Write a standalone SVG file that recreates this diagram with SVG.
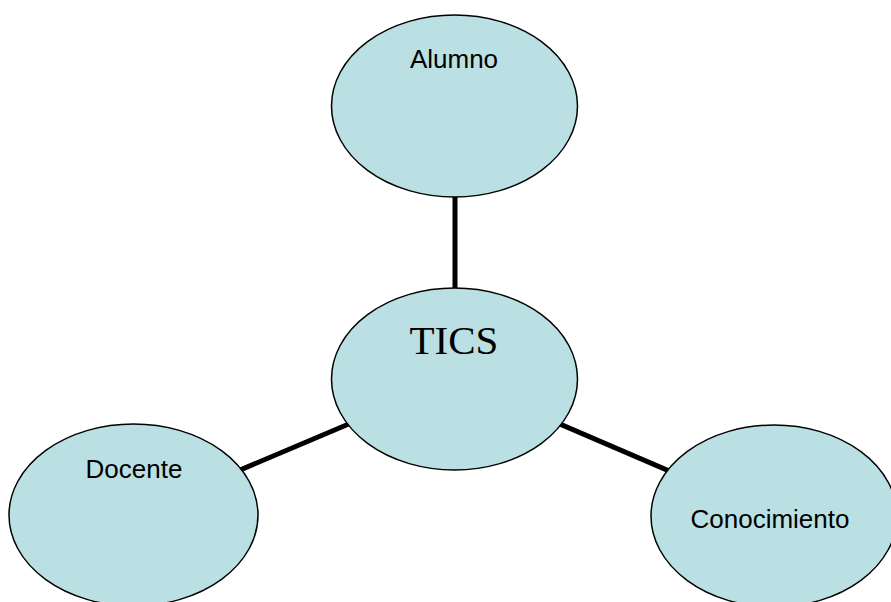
<svg xmlns="http://www.w3.org/2000/svg" width="891" height="602" viewBox="0 0 891 602">
  <style>
    .node ellipse { fill: #BBE0E3; stroke: #000; stroke-width: 1.5; }
    .lbl { font-family: "Liberation Sans", Arial, sans-serif; font-size: 26px; fill: #000; text-anchor: middle; }
    .main { font-family: "Liberation Serif", "Times New Roman", serif; font-size: 41px; fill: #000; text-anchor: middle; }
    .conn line { stroke: #000; stroke-width: 5; }
  </style>
  <rect width="891" height="602" fill="#fff"/>
  <g id="connectors" class="conn">
    <line x1="455" y1="190" x2="455" y2="295"/>
    <line x1="455" y1="379" x2="134" y2="515"/>
    <line x1="455" y1="379" x2="774" y2="516"/>
  </g>
  <g id="alumno" class="node">
    <ellipse cx="454.5" cy="106" rx="123" ry="91"/>
    <text class="lbl" x="454" y="68">Alumno</text>
  </g>
  <g id="tics" class="node">
    <ellipse cx="454.5" cy="379" rx="123" ry="91"/>
    <text class="main" x="454" y="354">TICS</text>
  </g>
  <g id="docente" class="node">
    <ellipse cx="133.5" cy="515" rx="124.5" ry="91"/>
    <text class="lbl" x="134" y="478">Docente</text>
  </g>
  <g id="conocimiento" class="node">
    <ellipse cx="774" cy="516" rx="123" ry="91"/>
    <text class="lbl" x="770" y="528">Conocimiento</text>
  </g>
</svg>
